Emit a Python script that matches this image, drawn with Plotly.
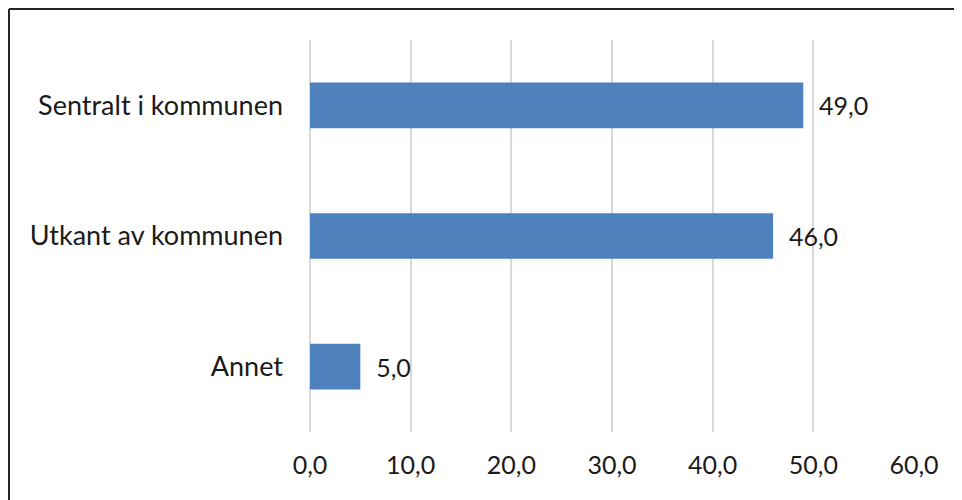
import plotly.graph_objects as go

categories = ["Sentralt i kommunen", "Utkant av kommunen", "Annet"]
values = [49.0, 46.0, 5.0]
x_ticks = [0, 10, 20, 30, 40, 50, 60]

fig = go.Figure(go.Bar(
    x=values, y=categories, orientation="h",
    marker=dict(color="#4F81BD", line=dict(width=0)),
    width=0.35,
    texttemplate="\u00a0\u00a0%{x:.1f}", textposition="outside",
    textfont=dict(size=25, color="#1a1a1a", family="Lato"),
    cliponaxis=False,
))

# page has 8px body margin; figure pixel = page pixel - 8
W, H = 962, 500
L, T = 302, 32
pw, ph = 604, 392
R = W - L - pw
B = H - T - ph

def px_x(p):
    return (p - L) / pw

def px_y(p):
    return (T + ph - p) / ph

fig.update_layout(
    width=W, height=H,
    margin=dict(l=L, r=R, t=T, b=B),
    paper_bgcolor="white", plot_bgcolor="white",
    separators=", ",
    showlegend=False,
    font=dict(family="Lato", size=25, color="#1a1a1a"),
    xaxis=dict(range=[0, 60], tickvals=x_ticks, tickformat=".1f",
               showgrid=True, gridcolor="#D9D9D9", gridwidth=2,
               zeroline=True, zerolinecolor="#D9D9D9", zerolinewidth=2,
               showline=False, ticks="",
               ticklabelstandoff=16, tickfont=dict(size=25)),
    yaxis=dict(categoryorder="array", categoryarray=categories[::-1],
               showgrid=False, zeroline=False, showline=False, ticks="",
               ticklabelstandoff=26, tickfont=dict(size=27)),
    shapes=[
        dict(type="line", xref="paper", yref="paper",
             x0=px_x(1), x1=px_x(1), y0=px_y(1), y1=px_y(520),
             line=dict(color="#222222", width=2)),
        dict(type="line", xref="paper", yref="paper",
             x0=px_x(1), x1=px_x(980), y0=px_y(1), y1=px_y(1),
             line=dict(color="#222222", width=2)),
    ],
)

fig.write_html("out.html")
